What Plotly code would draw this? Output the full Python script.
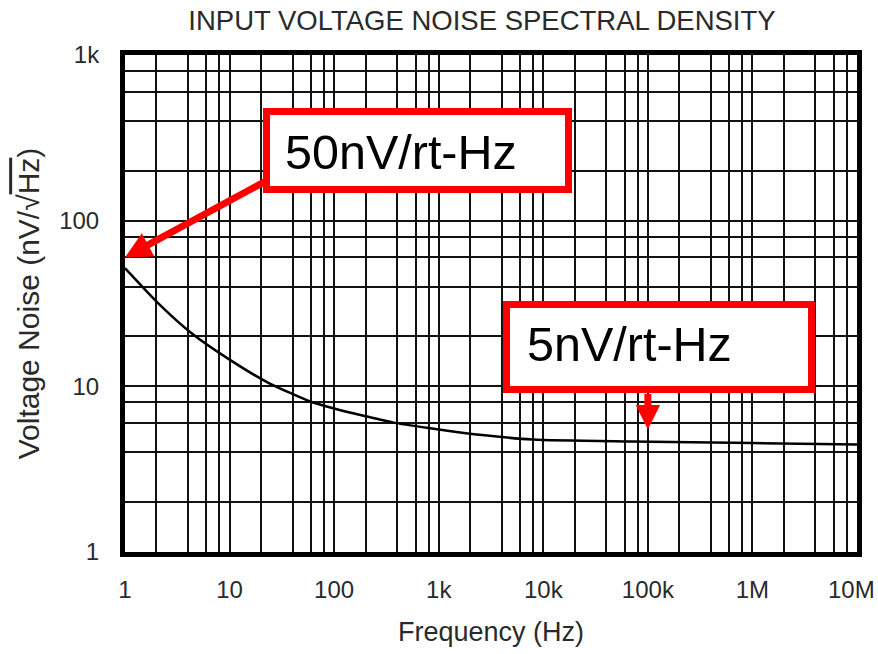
import math
import plotly.graph_objects as go

# ---- data ----
freq_hz = [1, 2.07, 4.3, 10, 23.5, 59, 100, 200, 371, 800, 1600, 7900, 69000, 1e6, 1e7]
noise_nv = [51.7, 31.8, 21.0, 14.5, 10.5, 8.1, 7.35, 6.6, 6.04, 5.6, 5.27, 4.77, 4.64, 4.55, 4.45]

x_grid_vals = [m * 10 ** d for d in range(0, 7) for m in (1, 2, 4, 6, 8)] + [1e7]
x_major = {1: "1", 10: "10", 100: "100", 1e3: "1k", 1e4: "10k", 1e5: "100k", 1e6: "1M"}
x_last_label = "10M"
y_grid_vals = [m * 10 ** d for d in range(0, 3) for m in (1, 2, 4, 6, 8)] + [1000]
y_major = {1: "1", 10: "10", 100: "100", 1000: "1k"}

x_ticktext = [x_major.get(v, "") for v in x_grid_vals]
y_ticktext = [y_major.get(v, "") for v in y_grid_vals]

label_50 = "50nV/rt-Hz"
label_5 = "5nV/rt-Hz"
arrow1_target = (1, 60)        # (Hz, nV/rtHz)
arrow2_target = (1e5, 5.48)

# ---- layout geometry (pixels) ----
W, H = 878, 654
L, R, T, B = 125, 857, 55, 552

def px(xp):
    return (xp - L) / (R - L)

def py(yp):
    return (B - yp) / (B - T)

FONT = "Liberation Sans, Arial, sans-serif"
TXT = "#2a2a2a"

fig = go.Figure()
fig.add_trace(go.Scatter(
    x=freq_hz, y=noise_nv, mode="lines",
    line=dict(color="black", width=2.5, shape="spline", smoothing=0.6),
    showlegend=False, hoverinfo="skip",
))

axis_common = dict(
    type="log", showgrid=True, gridcolor="#111111", gridwidth=2,
    showline=True, linecolor="black", linewidth=5, mirror=True,
    zeroline=False, ticks="outside", tickcolor="rgba(0,0,0,0)",
    ticklabeloverflow="allow", automargin=False,
    tickfont=dict(family=FONT, size=24, color=TXT),
)

fig.update_layout(
    width=W, height=H,
    margin=dict(l=L, r=W - R, t=T, b=H - B, autoexpand=False),
    paper_bgcolor="white", plot_bgcolor="white",
    font=dict(family=FONT, color=TXT),
    title=dict(text="INPUT VOLTAGE NOISE SPECTRAL DENSITY",
               font=dict(family=FONT, size=27.5, color=TXT),
               x=482 / W, xanchor="center", y=1 - 20 / H, yanchor="middle"),
    xaxis=dict(axis_common, range=[0, 7], tickmode="array",
               tickvals=x_grid_vals, ticktext=x_ticktext, ticklen=12,
               title=dict(text="Frequency (Hz)", font=dict(family=FONT, size=27, color=TXT), standoff=22)),
    yaxis=dict(axis_common, range=[0, 3], tickmode="array",
               tickvals=y_grid_vals, ticktext=y_ticktext, ticklen=16,
               title=dict(text="Voltage Noise (nV/\u221a<span style='text-decoration:overline'>Hz</span>)",
                          font=dict(family=FONT, size=30, color=TXT), standoff=12)),
)

# last x tick label, kept inside the page edge
fig.add_annotation(text=x_last_label, xref="paper", yref="paper", x=px(877), y=py(589),
                   xanchor="right", yanchor="middle", showarrow=False,
                   font=dict(family=FONT, size=24, color=TXT))

# red boxes
fig.add_shape(type="rect", xref="paper", yref="paper",
              x0=px(266.5), x1=px(568.5), y0=py(189.5), y1=py(111.5),
              line=dict(color="#ff0000", width=7), fillcolor="white", layer="above")
fig.add_shape(type="rect", xref="paper", yref="paper",
              x0=px(506.5), x1=px(811.5), y0=py(389.5), y1=py(304.5),
              line=dict(color="#ff0000", width=7), fillcolor="white", layer="above")

# labels
fig.add_annotation(text=label_50, xref="paper", yref="paper", x=px(283), y=py(152),
                   xanchor="left", yanchor="middle", showarrow=False,
                   font=dict(family=FONT, size=48.5, color="black"))
fig.add_annotation(text=label_5, xref="paper", yref="paper", x=px(525), y=py(344),
                   xanchor="left", yanchor="middle", showarrow=False,
                   font=dict(family=FONT, size=48.5, color="black"))

# arrows
fig.add_annotation(x=math.log10(arrow1_target[0]), y=math.log10(arrow1_target[1]),
                   xref="x", yref="y", text="", showarrow=True,
                   ax=142, ay=-77, axref="pixel", ayref="pixel",
                   arrowhead=2, arrowsize=0.75, arrowwidth=7, arrowcolor="#ff0000", standoff=0)
fig.add_annotation(x=math.log10(arrow2_target[0]), y=math.log10(arrow2_target[1]),
                   xref="x", yref="y", text="", showarrow=True,
                   ax=0, ay=-37, axref="pixel", ayref="pixel",
                   arrowhead=2, arrowsize=0.7, arrowwidth=7, arrowcolor="#ff0000", standoff=0)

fig.write_html("out.html")
